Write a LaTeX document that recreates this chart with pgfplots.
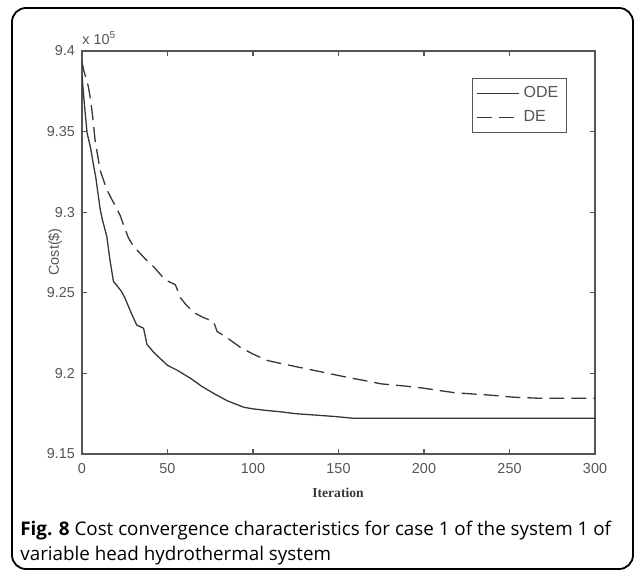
\documentclass[border=0pt]{standalone}
\usepackage{fontspec}
\setmainfont{Liberation Sans}
\newfontfamily\capfont{Open Sans}
\newfontfamily\seriffont{Liberation Serif}
\usepackage{pgfplots}
\pgfplotsset{compat=1.18}
\definecolor{axgray}{RGB}{85,85,85}
\definecolor{lngray}{RGB}{55,55,55}
\begin{document}
\begin{tikzpicture}[x=0.5pt,y=0.5pt]
% units: 1 = one reference pixel, origin at the axis' lower left corner
\useasboundingbox (-82,-119) rectangle (554,454);
\draw[line width=0.9pt, rounded corners=7pt] (-70,-115) rectangle (551,446);
\begin{axis}[
  at={(0,0)}, anchor=south west,
  scale only axis,
  width=256.5pt, height=201.5pt,
  xmin=0, xmax=300, ymin=9.15, ymax=9.4,
  xtick={0,50,...,300},
  ytick={9.15,9.2,9.25,9.3,9.35,9.4},
  yticklabels={9.15,9.2,9.25,9.3,9.35,9.4},
  /pgf/number format/assume math mode=true,
  tick align=inside,
  major tick length=2.5pt,
  axis line style={axgray, line width=0.7pt},
  every tick/.style={axgray, line width=0.6pt},
  tick label style={font=\fontsize{7.2}{8}\selectfont, text=axgray},
  xticklabel style={yshift=-1pt},
  legend style={at={(0.945,0.933)}, anchor=north east, draw=axgray,
    line width=0.5pt, font=\fontsize{8}{9}\selectfont, text=axgray,
    inner sep=2pt, row sep=1pt},
  legend cell align=left,
  legend image code/.code={\draw[#1] (0pt,0pt) -- (21pt,0pt);},
]
\addplot[lngray, line width=0.65pt] coordinates {
(0,9.385) (1,9.372) (2,9.360) (3,9.349) (5,9.340) (6.6,9.330) (8,9.322)
(10.6,9.302) (12,9.295) (14.5,9.285) (16.4,9.270) (18.4,9.257) (20,9.255)
(23,9.251) (25,9.247) (29,9.237) (32,9.230) (36,9.228) (38,9.218)
(42,9.213) (46,9.209) (50,9.205) (55.6,9.202) (63.4,9.197) (70,9.192)
(78,9.187) (85,9.183) (94.6,9.179) (100,9.178) (108,9.177) (116,9.1762)
(125,9.175) (135.8,9.1742) (148.6,9.1732) (158.4,9.1722) (300,9.1722)
};
\addlegendentry{ODE}
\addplot[lngray, line width=0.65pt, dash pattern=on 7.5pt off 3.5pt] coordinates {
(0,9.393) (1,9.388) (3.7,9.378) (5,9.370) (6.5,9.357) (7.6,9.345)
(10.6,9.326) (14.5,9.314) (17.4,9.308) (20,9.303) (22.3,9.298) (25,9.290)
(27.2,9.284) (30,9.279) (37,9.271) (42,9.266) (48.7,9.258) (54.6,9.255)
(57.5,9.247) (60.5,9.243) (65,9.238) (70.3,9.235) (77,9.232) (79,9.226)
(85,9.222) (92.8,9.216) (100,9.212) (108.4,9.208) (117,9.206) (126,9.204)
(139.7,9.201) (155.4,9.1975) (163,9.196) (175,9.1935) (188.5,9.1922)
(198.5,9.191) (218,9.188) (237.6,9.1866) (253,9.1852) (267,9.1846) (300,9.1846)
};
\addlegendentry{DE}
\end{axis}
\node[anchor=base west, text=axgray, font=\fontsize{7.2}{8}\selectfont, inner sep=0pt]
  at (0,409) {x 10\textsuperscript{5}};
\node[rotate=90, text=axgray, font=\fontsize{7.2}{8}\selectfont] at (-27,202) {Cost(\$)};
\node[font=\seriffont\bfseries\fontsize{6.8}{8}\selectfont, text=lngray] at (256,-39) {Iteration};
\node[anchor=base west, inner sep=0pt, font=\capfont\fontsize{9.4}{11}\selectfont]
  at (-62,-81) {\textbf{Fig. 8} Cost convergence characteristics for case 1 of the system 1 of};
\node[anchor=base west, inner sep=0pt, font=\capfont\fontsize{9.4}{11}\selectfont]
  at (-62,-106) {variable head hydrothermal system};
\end{tikzpicture}
\end{document}
